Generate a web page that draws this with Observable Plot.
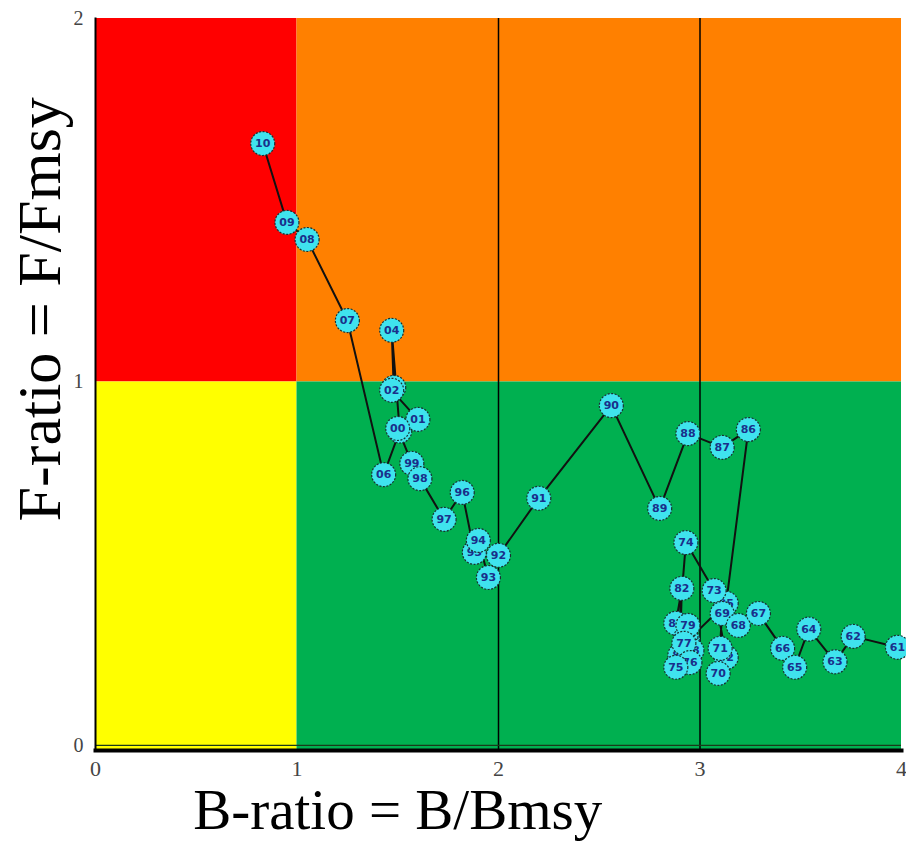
<!DOCTYPE html>
<html>
<head>
<meta charset="utf-8">
<script src="https://cdn.jsdelivr.net/npm/d3@7"></script>
<script src="https://cdn.jsdelivr.net/npm/@observablehq/plot@0.6"></script>
<style>
  html, body { margin: 0; padding: 0; background: #fff; }
  #chart svg { display: block; }
</style>
</head>
<body>
<div id="chart"></div>
<script>
// Year labels (two-digit) along the trajectory
const years = ["61","62","63","64","65","66","67","68","69","70",
               "71","72","73","74","75","76","77","78","79","80",
               "81","82","83","84","85","86","87","88","89","90",
               "91","92","93","94","95","96","97","98","99","00",
               "01","02","03","04","05","06","07","08","09","10"];
// B/Bmsy
const bRatio = [3.98,3.76,3.67,3.54,3.47,3.41,3.29,3.19,3.11,3.09,
                3.10,3.13,3.07,2.93,2.88,2.95,2.92,2.96,2.94,2.93,
                2.90,2.91,2.88,2.94,3.13,3.24,3.11,2.94,2.80,2.56,
                2.20,2.00,1.95,1.90,1.88,1.82,1.73,1.61,1.57,1.50,
                1.60,1.47,1.48,1.47,1.51,1.43,1.25,1.05,0.95,0.83];
// F/Fmsy
const fRatio = [0.270,0.300,0.230,0.320,0.215,0.267,0.363,0.330,0.363,0.198,
                0.267,0.242,0.426,0.558,0.215,0.228,0.281,0.261,0.330,0.297,
                0.248,0.432,0.336,0.289,0.391,0.869,0.820,0.858,0.652,0.935,
                0.680,0.523,0.462,0.564,0.531,0.696,0.622,0.734,0.776,0.872,
                0.897,0.977,0.985,1.142,0.865,0.745,1.169,1.392,1.439,1.656];

// Status zones (data units)
const zoneB1 = [0, 1, 0, 1];
const zoneB2 = [1, 4, 1, 4];
const zoneF1 = [1, 1, -0.014, -0.014];
const zoneF2 = [2, 2, 1, 1];
const zoneColor = ["#ff0000", "#ff8000", "#ffff00", "#00b050"];

const xTicks = [0, 1, 2, 3, 4];
const yTicks = [0, 1, 2];
const refB = [2, 3];

const pts = years.map((yr, i) => ({year: yr, b: bRatio[i], f: fRatio[i]}));
const ptsTopFirst = pts.slice().reverse();
const zones = zoneColor.map((c, i) => ({x1: zoneB1[i], x2: zoneB2[i], y1: zoneF1[i], y2: zoneF2[i], c}));

const serif = "'Liberation Serif', 'Times New Roman', serif";

// each point: a bubble then its label, so later bubbles cover earlier labels
const bubbleMarks = ptsTopFirst.map(p => [
  Plot.dot([p], {x: "b", y: "f", r: 12, fill: "#3fe3ee", stroke: "#1a3030", strokeWidth: 1.2, strokeDasharray: "2,1.5"}),
  Plot.text([p], {x: "b", y: "f", text: "year", fontSize: 11, fontWeight: 600, fill: "#1a2f8a", fontFamily: "'DejaVu Sans', sans-serif"})
]);

const chart = Plot.plot({
  width: 906,
  height: 856,
  marginLeft: 95,
  marginRight: 5,
  marginTop: 18,
  marginBottom: 106,
  style: {background: "#fff", overflow: "visible"},
  x: {domain: [0, 4], axis: null},
  y: {domain: [-0.014, 2], axis: null},
  marks: [
    Plot.rect(zones, {x1: "x1", x2: "x2", y1: "y1", y2: "y2", fill: "c"}),
    Plot.ruleX(refB, {stroke: "#000", strokeWidth: 1.5}),
    Plot.ruleY([0], {stroke: "#1a3a1a", strokeWidth: 1.2}),
    Plot.frame({anchor: "bottom", stroke: "#000", strokeWidth: 4}),
    Plot.frame({anchor: "left", stroke: "#000", strokeWidth: 2}),
    Plot.text(xTicks, {x: d => d, frameAnchor: "bottom", dy: 25, text: d => String(d), fontSize: 22, fontFamily: serif, fill: "#444"}),
    Plot.text(yTicks, {y: d => d, frameAnchor: "left", dx: -12, textAnchor: "end", text: d => String(d), fontSize: 20, fontFamily: serif, fill: "#444"}),
    Plot.line(pts, {x: "b", y: "f", stroke: "#111", strokeWidth: 2}),
    ...bubbleMarks,
    Plot.text(["B-ratio = B/Bmsy"], {x: 1.5, frameAnchor: "bottom", dy: 78, text: d => d, fontSize: 57, fontFamily: serif, fill: "#000"}),
    Plot.text(["F-ratio = F/Fmsy"], {y: 1.2, frameAnchor: "left", dx: -55, rotate: -90, textAnchor: "middle", text: d => d, fontSize: 62, fontFamily: serif, fill: "#000"})
  ]
});
document.getElementById("chart").appendChild(chart);
</script>
</body>
</html>
